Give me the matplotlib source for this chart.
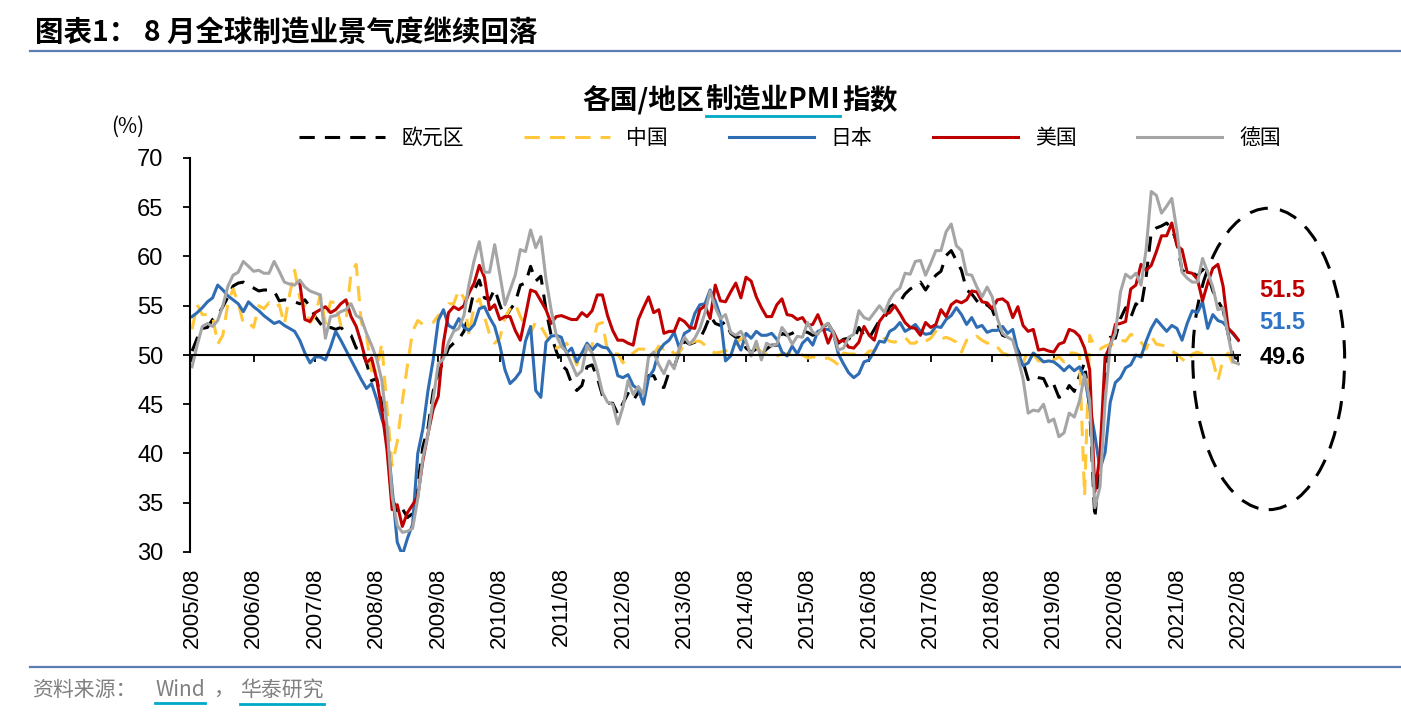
import matplotlib
matplotlib.use('Agg')
import matplotlib.pyplot as plt
import numpy as np
import pandas as pd
from matplotlib.patches import Ellipse
from matplotlib.lines import Line2D

plt.rcParams['font.family'] = ['Liberation Sans', 'Noto Sans CJK SC', 'DejaVu Sans']

months = pd.date_range('2005-08-01', '2022-08-01', freq='MS')

# 欧元区 制造业PMI
ez = [50.4, 51.7, 52.7, 52.8, 53.6,
      54.0, 54.9, 55.9, 57.0, 57.3, 57.4, 57.0, 56.8, 56.5, 56.6, 56.6, 56.5,
      55.5, 55.6, 55.5, 55.4, 55.2, 55.6, 54.9, 53.9, 53.2, 52.6, 52.8, 52.6,
      52.8, 52.3, 52.0, 50.7, 50.6, 49.2, 47.4, 47.6, 45.0, 41.1, 35.6, 33.9,
      34.4, 33.5, 33.9, 36.8, 40.7, 42.6, 46.3, 48.2, 49.3, 50.7, 51.2, 51.6,
      52.4, 54.2, 56.6, 57.6, 55.8, 55.6, 56.7, 55.1, 53.7, 54.6, 55.3, 57.1,
      57.3, 59.0, 57.5, 58.0, 54.6, 52.0, 50.4, 49.0, 48.5, 47.1, 46.4, 46.9,
      48.8, 49.0, 47.7, 45.9, 45.1, 45.1, 44.0, 45.1, 46.1, 45.4, 46.2, 46.1,
      47.9, 47.9, 46.8, 46.7, 48.3, 48.8, 50.3, 51.4, 51.1, 51.3, 51.6, 52.7,
      54.0, 53.2, 53.0, 53.4, 52.2, 51.8, 51.8, 50.7, 50.3, 50.6, 50.1, 50.6,
      51.0, 51.0, 52.2, 52.0, 52.2, 52.5, 52.4, 52.3, 52.0, 52.3, 52.8, 53.2,
      52.3, 51.2, 51.6, 51.7, 51.5, 52.8, 52.0, 51.7, 52.6, 53.5, 53.7, 54.9,
      55.2, 55.4, 56.2, 56.7, 57.0, 57.4, 56.6, 57.4, 58.1, 58.5, 60.1, 60.6,
      59.6, 58.6, 56.6, 56.2, 55.5, 54.9, 55.1, 54.6, 53.2, 52.0, 51.8, 51.4,
      50.5, 49.3, 47.5, 47.9, 47.7, 47.6, 46.5, 47.0, 45.7, 45.9, 46.9, 46.3,
      47.9, 49.2, 44.5, 33.4, 39.4, 47.4, 51.8, 51.7, 53.7, 54.8, 53.8, 55.2,
      54.8, 57.9, 62.5, 62.9, 63.1, 63.4, 62.8, 61.4, 58.6, 58.3, 58.4, 58.0,
      58.7, 58.2, 56.5, 55.5, 54.6, 52.1, 49.8, 49.6]

# 中国 制造业PMI
cn = [52.6, 55.1, 54.1, 54.1, 54.0,
      51.1, 52.0, 55.3, 56.7, 55.3, 53.2, 53.3, 52.8, 55.0, 54.7, 55.3, 54.8,
      55.1, 53.1, 56.1, 58.6, 55.8, 54.9, 53.3, 54.0, 56.1, 53.2, 55.4, 55.3,
      53.0, 53.4, 58.4, 59.2, 53.3, 52.0, 48.4, 48.4, 51.2, 44.6, 38.8, 41.2,
      45.3, 49.0, 52.4, 53.5, 53.1, 53.2, 53.3, 54.0, 54.3, 55.2, 55.2, 56.6,
      55.8, 52.0, 55.1, 55.7, 53.9, 52.1, 51.2, 51.7, 53.8, 54.7, 55.2, 53.9,
      52.9, 52.2, 53.4, 52.9, 52.0, 50.9, 50.7, 50.9, 51.2, 50.4, 49.0, 50.3,
      50.5, 51.0, 53.1, 53.3, 50.4, 50.2, 50.1, 49.2, 49.8, 50.2, 50.6, 50.6,
      50.4, 50.1, 50.9, 50.6, 50.8, 50.1, 50.3, 51.0, 51.1, 51.4, 51.4, 51.0,
      50.5, 50.2, 50.3, 50.4, 50.8, 51.0, 51.7, 51.1, 51.1, 50.8, 50.3, 50.1,
      49.8, 49.9, 50.1, 50.1, 50.2, 50.2, 50.0, 49.7, 49.8, 49.8, 49.6, 49.7,
      49.4, 49.0, 50.2, 50.1, 50.1, 50.0, 49.9, 50.4, 50.4, 51.2, 51.7, 51.4,
      51.3, 51.6, 51.8, 51.2, 51.2, 51.7, 51.4, 51.7, 52.4, 51.6, 51.8, 51.6,
      51.3, 50.3, 51.5, 51.4, 51.9, 51.5, 51.2, 51.3, 50.8, 50.2, 50.0, 49.4,
      49.5, 49.2, 50.5, 50.1, 49.4, 49.4, 49.7, 49.5, 49.8, 49.3, 50.2, 50.2,
      50.0, 35.7, 52.0, 50.8, 50.6, 50.9, 51.1, 51.0, 51.5, 51.4, 52.1, 51.9,
      51.3, 50.6, 51.9, 51.1, 51.0, 50.9, 50.4, 50.1, 49.6, 49.2, 50.1, 50.3,
      50.1, 50.2, 49.5, 47.4, 49.6, 50.2, 49.0, 49.4]

# 日本 制造业PMI
jp = [53.9, 54.3, 54.8, 55.4, 55.8,
      57.1, 56.6, 56.0, 55.6, 55.2, 54.4, 55.4, 54.9, 54.5, 54.0, 53.6, 53.2,
      53.4, 53.0, 52.7, 52.4, 51.5, 50.2, 49.2, 49.8, 49.8, 49.5, 50.8, 52.4,
      51.5, 50.5, 49.5, 48.5, 47.5, 46.6, 47.1, 45.5, 43.5, 42.0, 36.5, 31.0,
      29.7, 31.4, 32.8, 40.0, 42.5, 46.4, 49.5, 53.5, 54.6, 53.0, 52.7, 53.7,
      52.8, 52.5, 53.1, 54.7, 54.9, 53.8, 52.9, 51.0, 48.5, 47.1, 47.6, 48.3,
      51.4, 52.9, 46.4, 45.7, 51.3, 51.9, 52.0, 51.8, 50.2, 50.7, 49.3, 50.2,
      51.2, 50.5, 51.1, 50.8, 50.7, 49.9, 47.9, 47.7, 48.0, 46.9, 46.5, 45.0,
      47.7, 48.5, 50.4, 51.1, 51.5, 52.3, 50.7, 52.2, 52.5, 54.2, 55.1, 55.2,
      56.6, 55.5, 53.9, 49.4, 49.9, 51.5, 50.5, 52.2, 51.7, 52.4, 52.0, 52.0,
      52.2, 51.6, 50.3, 49.9, 50.9, 50.1, 51.2, 51.7, 51.0, 52.4, 52.6, 52.6,
      52.3, 50.1, 49.1, 48.2, 47.7, 48.1, 49.3, 49.5, 50.4, 51.4, 51.3, 52.4,
      52.7, 53.3, 52.4, 52.7, 53.1, 52.4, 52.1, 52.2, 52.9, 52.8, 53.6, 54.0,
      54.8, 54.1, 53.1, 53.8, 52.8, 53.0, 52.3, 52.5, 52.5, 52.9, 52.2, 52.6,
      50.3, 48.9, 49.2, 50.2, 49.8, 49.3, 49.4, 49.3, 48.9, 48.4, 48.9, 48.4,
      48.8, 47.8, 44.8, 41.9, 38.4, 40.1, 45.2, 47.2, 47.7, 48.7, 49.0, 50.0,
      49.8, 51.4, 52.7, 53.6, 53.0, 52.4, 53.0, 52.7, 51.5, 53.2, 54.5, 54.3,
      55.4, 52.7, 54.1, 53.5, 53.3, 52.7, 52.1, 51.5]

# 美国 制造业PMI（2007/05 起）
us = [np.nan] * 21 + [
      57.3, 53.6, 53.4, 54.3, 54.6, 54.9, 54.3, 54.6,
      55.2, 55.6, 53.9, 52.9, 51.2, 49.2, 49.7, 47.5, 44.4, 40.4, 34.3, 34.8,
      32.6, 34.0, 34.8, 35.6, 39.3, 42.0, 44.5, 45.8, 51.2, 54.3, 54.9, 54.6,
      55.0, 56.3, 57.3, 59.1, 57.9, 54.6, 55.1, 53.6, 53.9, 53.9, 52.5, 51.5,
      54.0, 56.6, 56.4, 55.5, 54.6, 53.2, 53.9, 54.0, 53.8, 53.6, 53.6, 54.3,
      53.9, 54.5, 56.1, 56.1, 54.0, 52.5, 51.5, 51.5, 51.2, 51.0, 53.6, 54.8,
      55.9, 54.3, 54.6, 52.2, 52.4, 52.4, 53.7, 53.4, 52.8, 52.7, 54.6, 55.0,
      53.7, 57.1, 55.5, 55.4, 56.4, 57.3, 55.8, 57.9, 57.5, 55.9, 54.8, 53.9,
      53.9, 55.1, 55.7, 54.1, 54.0, 53.6, 53.8, 53.0, 53.1, 54.1, 52.8, 51.2,
      52.4, 51.3, 51.5, 50.8, 50.7, 51.3, 52.9, 52.0, 51.5, 53.4, 54.1, 54.3,
      55.0, 54.2, 53.3, 52.8, 52.7, 52.0, 53.3, 52.8, 53.1, 54.6, 53.9, 55.1,
      55.5, 55.3, 55.6, 56.5, 56.4, 55.4, 55.3, 54.7, 55.6, 55.7, 55.3, 53.8,
      54.9, 53.0, 52.4, 52.6, 50.5, 50.6, 50.4, 50.3, 51.1, 51.3, 52.6, 52.4,
      51.9, 50.7, 48.5, 36.1, 39.8, 49.8, 50.9, 53.1, 53.2, 53.4, 56.7, 57.1,
      59.2, 58.6, 59.1, 60.5, 62.1, 62.1, 63.4, 61.1, 60.7, 58.4, 58.3, 57.7,
      55.5, 57.3, 58.8, 59.2, 57.0, 52.7, 52.2, 51.5]

# 德国 制造业PMI
de = [48.8, 51.0, 52.9, 53.2, 52.9,
      53.5, 55.0, 57.0, 58.1, 58.4, 59.5, 59.0, 58.5, 58.6, 58.3, 58.3, 59.5,
      58.5, 57.4, 57.2, 57.1, 57.6, 56.9, 56.5, 56.3, 56.1, 51.7, 53.9, 54.0,
      54.4, 54.6, 55.2, 54.0, 53.7, 52.2, 51.0, 49.6, 47.4, 42.9, 35.7, 32.7,
      32.0, 32.1, 32.4, 35.4, 39.6, 41.9, 45.5, 49.1, 49.6, 51.3, 52.4, 52.7,
      54.0, 57.2, 59.6, 61.5, 58.4, 58.4, 61.2, 58.2, 55.1, 56.6, 58.1, 60.7,
      60.5, 62.7, 60.9, 62.0, 57.7, 54.6, 52.0, 50.9, 50.3, 49.1, 47.9, 48.4,
      51.0, 50.2, 48.4, 46.2, 45.2, 45.0, 43.0, 44.7, 47.4, 46.0, 46.8, 46.0,
      49.8, 50.3, 49.0, 48.1, 49.4, 48.6, 50.7, 51.8, 51.1, 51.7, 52.7, 54.3,
      56.5, 54.8, 53.7, 54.1, 52.3, 52.0, 52.4, 51.4, 49.9, 51.4, 49.5, 51.2,
      50.9, 51.1, 52.8, 52.1, 51.1, 51.9, 51.8, 53.3, 52.3, 52.1, 52.9, 53.2,
      52.3, 50.5, 50.7, 51.8, 52.1, 54.5, 53.8, 53.6, 54.3, 55.0, 54.3, 55.6,
      56.4, 56.8, 58.3, 58.2, 59.5, 59.6, 58.1, 59.3, 60.6, 60.6, 62.5, 63.3,
      61.1, 60.6, 58.2, 58.1, 56.9, 55.9, 56.9, 55.9, 53.7, 52.2, 51.8, 51.5,
      49.7, 47.6, 44.1, 44.4, 44.3, 45.0, 43.2, 43.5, 41.7, 42.1, 44.1, 43.7,
      45.3, 48.0, 45.4, 34.5, 36.6, 45.2, 51.0, 52.2, 56.4, 58.2, 57.8, 58.3,
      57.1, 60.7, 66.6, 66.2, 64.4, 65.1, 65.9, 62.6, 58.4, 57.8, 57.4, 57.4,
      59.8, 58.4, 56.9, 54.6, 54.8, 52.0, 49.3, 49.1]

tick_labels = [d.strftime('%Y/%m') for d in months[::12]]

W, H = 1401, 726
CJK = ['Noto Sans CJK SC', 'DejaVu Sans']
fig = plt.figure(figsize=(W / 100, H / 100), dpi=100)
ax = fig.add_axes([190 / W, 1 - 552 / H, 1050 / W, 394 / H])

# 横轴放在 50 处，先设置位置再设置刻度
for s in ['top', 'right']:
    ax.spines[s].set_visible(False)
ax.spines['bottom'].set_position(('data', 50))
ax.spines['bottom'].set_linewidth(1.5)
ax.spines['left'].set_linewidth(1.5)

x = np.arange(len(months))
dash = (0, (5, 3.3))
ax.plot(x, ez, color='black', lw=2.2, ls=dash, label='欧元区')
ax.plot(x, cn, color='#FFC739', lw=2.2, ls=dash, label='中国')
ax.plot(x, jp, color='#2E6DB4', lw=2.2, label='日本')
ax.plot(x, us, color='#C00000', lw=2.2, label='美国')
ax.plot(x, de, color='#A5A5A5', lw=2.2, label='德国')

ax.set_xlim(-0.4, 204.3)
ax.set_ylim(30, 70)
ax.set_yticks(range(30, 71, 5))
ax.set_xticks(x[::12])
ax.set_xticklabels(tick_labels)
ax.tick_params(axis='x', length=5, width=1.3, pad=148, labelsize=16,
               labelrotation=90)
ax.tick_params(axis='y', length=5, width=1.3, pad=14, labelsize=17)

# 圈出最新值
ell = Ellipse((209.9, 49.6), 29.6, 30.6, fill=False, edgecolor='black',
              lw=2.2, ls=(0, (6, 4)), clip_on=False)
ax.add_patch(ell)
ax.text(212.6, 56.5, f'{us[-1]:.1f}', color='#C00000', fontsize=17,
        fontweight='bold', ha='center', va='center', clip_on=False)
ax.text(212.6, 53.25, f'{jp[-1]:.1f}', color='#2E75C6', fontsize=17,
        fontweight='bold', ha='center', va='center', clip_on=False)
ax.text(212.6, 49.7, f'{ez[-1]:.1f}', color='black', fontsize=17,
        fontweight='bold', ha='center', va='center', clip_on=False)

ax.legend(loc='center', bbox_to_anchor=(790 / W, 1 - 138 / H),
          bbox_transform=fig.transFigure, ncol=5, frameon=False,
          handlelength=4.1, handletextpad=0.8, columnspacing=2.9,
          prop={'family': CJK, 'size': 15})


def hline(x0, x1, y, color, lw):
    fig.add_artist(Line2D([x0 / W, x1 / W], [1 - y / H, 1 - y / H],
                          color=color, lw=lw, transform=fig.transFigure))


def put_row(pieces, x0, y, gap=0, **kw):
    """Place text pieces one after another; return the artists."""
    r = fig.canvas.get_renderer()
    out = []
    xx = x0
    for p in pieces:
        t = fig.text(xx / W, 1 - y / H, p, va='center', ha='left', **kw)
        bb = t.get_window_extent(r)
        xx = bb.x1 + gap
        out.append(t)
    return out


# 标题与注释
fig.text(35 / W, 1 - 33 / H, '图表1： 8 月全球制造业景气度继续回落',
         fontsize=20.5, fontweight='bold', va='center', ha='left', family=CJK)
fig.canvas.draw()
title = put_row(['各国/地区', '制造业PMI', '指数'], 582, 101, gap=2,
                fontsize=20, fontweight='bold', family=CJK)
fig.text(128 / W, 1 - 127 / H, '(%)', fontsize=15, va='center', ha='center',
         family=CJK)

foot = dict(fontsize=15, color='#808080', va='center', ha='left', family=CJK)
fig.text(32 / W, 1 - 690 / H, '资料来源：', **foot)
t_wind = fig.text(155 / W, 1 - 690 / H, 'Wind', **foot)
fig.text(213 / W, 1 - 690 / H, '，', **foot)
t_ht = fig.text(240 / W, 1 - 690 / H, '华泰研究', **foot)

hline(30, W, 51, '#5B7DB1', 1.6)
hline(30, W, 667, '#5B7DB1', 1.6)

# 链接下划线按文字实际宽度绘制
fig.canvas.draw()
r = fig.canvas.get_renderer()
for t, y in [(title[1], 116), (t_wind, 703), (t_ht, 704)]:
    bb = t.get_window_extent(r)
    hline(bb.x0, bb.x1, y, '#00A9C6', 2)

fig.savefig('out.png', dpi=100)
